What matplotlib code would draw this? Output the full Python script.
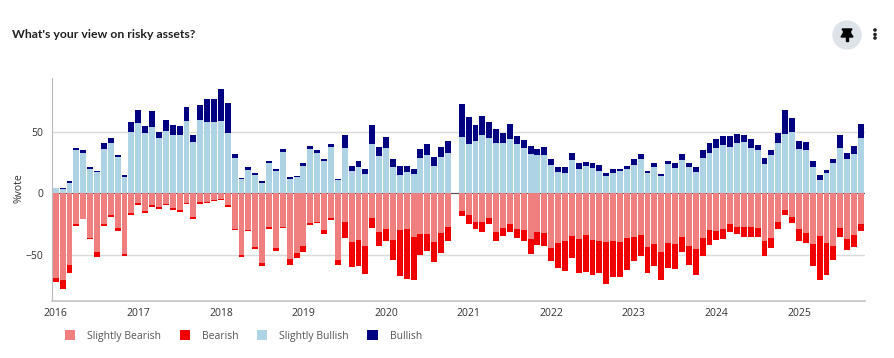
import matplotlib
matplotlib.use("Agg")
import matplotlib.pyplot as plt
from matplotlib.patches import Circle, Polygon, Rectangle
import numpy as np

years = ["2016", "2017", "2018", "2019", "2020", "2021", "2022", "2023", "2024", "2025"]
y_ticks = [-50, 0, 50]

slightly_bullish = [4.6,3.2,8.1,34.9,32.7,19.7,17,36.2,40.5,29.7,13.5,49.5,56.8,49.2,53.5,44.6,50.3,47,47,58.6,
41.4,59.5,57.6,57.6,58.6,48.6,28.9,11.4,19.2,15.1,8.4,24.6,18.4,33.8,11.9,13,22.4,35.7,33,25.9,
37.8,10.8,36.5,17.8,21.4,16,40.3,30.5,36.5,21.1,15.1,17,15.7,28.4,30.8,22.4,29.7,33,0,45.7,
40,42.4,47.6,45.1,41,41,44,39.7,37,31.6,30.8,31.4,23.2,17.3,16.8,27.3,19.5,21.9,20.5,18.4,
14,16.5,17.8,19.7,23.2,27.8,16.5,21.6,14.3,23.8,20.3,27,21.1,17.3,28.4,32.7,36.8,38.9,37.6,40.5,
41.4,37,35.1,24,30.8,40.5,48.1,49.5,35.7,35.1,21.6,10.8,16.5,24.6,36.5,27.8,31.6,44.9]
bullish = [0,0.8,1.6,1.6,2.2,1.6,1.4,4.6,4.3,1.4,1.1,8.4,11.1,5.4,13.5,4.9,9.5,8.1,7.3,11.1,
5.7,12.4,18.9,18.9,26.2,24.9,3.2,1.4,1.9,1.6,1.4,1.6,1.4,2.2,1.4,1.4,2.2,2.4,2.2,1.6,
2.2,0.8,11.1,4.6,4.6,4,14.9,7.3,9.2,6.5,7.3,4.9,3.8,7.3,9.2,6.8,7.9,9.5,0,27,
22.2,13,14.9,12.4,10.8,7.6,12.4,7,6.2,7,5.1,5.9,4.9,3.8,4.6,5.7,5.1,3.2,4.3,4.6,
2.4,3,1.6,2.2,4.6,4.3,1.9,2.7,1.4,2.7,4.6,4.9,3.2,3.8,6.8,7.8,7,7.6,8.9,7.8,
6.2,6.8,3.8,4.9,4.1,8.4,19.7,11.4,7,6.2,4.6,4.3,2.4,3,11.1,5.1,7,11.4]
slightly_bearish = [-68.4,-70.3,-58.4,-25.1,-20.8,-36.2,-47.6,-24.9,-17.8,-28.4,-49.2,-16.2,-7.8,-14,-9.2,-11.4,-8.4,-11.9,-13.5,-7.8,
-19.5,-7.3,-6.8,-5.7,-4.3,-9.7,-28.6,-50,-29.5,-43.5,-56.5,-27.3,-44.6,-27.3,-53.2,-48.1,-42.7,-24.3,-23.2,-29.7,
-19.7,-53.8,-23.5,-39.2,-37.8,-43,-20.3,-31.4,-28.9,-37.8,-30,-28.6,-35.7,-32.7,-33,-39.5,-31.9,-27,0,-14,
-17.6,-23.5,-23.2,-20.3,-31,-28.4,-24.9,-29.2,-30,-37,-31,-32.4,-44,-40,-38.6,-34.3,-37.3,-33.8,-37.8,-38.4,
-39.2,-38.6,-39.5,-36.5,-35.7,-33.5,-43.5,-41.4,-47.6,-40.3,-41,-35.7,-42.4,-45.4,-36.2,-29.5,-30.3,-28.6,-24.9,-27,
-27.3,-27,-28.4,-38.4,-36.2,-23.2,-13.2,-19.2,-29.2,-32.2,-41,-34.6,-40.5,-42.7,-28.4,-37,-33.5,-24.9]
bearish = [-3.5,-7.5,-6.2,-1.1,-0.3,-1.1,-3.8,-1.3,-1.4,-2.1,-1.9,-1.4,-1.4,-1.7,-1.6,-1.3,-1.3,-1.6,-1.4,-1.1,
-1.6,-1.1,-1,-0.8,-1.1,-1.7,-1.4,-1.4,-1.3,-1.4,-2.1,-1.3,-1.9,-1.1,-4.9,-4.6,-4.6,-1.4,-1.1,-3,
-1.7,-4.3,-12.7,-20.5,-21.4,-22.4,-8.1,-11,-9.7,-16.5,-37.3,-40.6,-34.3,-17.6,-13.8,-16.2,-16.7,-11.9,0,-4.4,
-7.3,-5.4,-8.4,-4.6,-7.9,-6.2,-6.1,-6.8,-8.4,-12.5,-10.9,-10.6,-11.1,-20.5,-24.6,-18.1,-27,-30,-28.4,-26.2,
-34,-29.5,-28.6,-25.9,-19.4,-17,-21.4,-17.2,-22.9,-20.5,-20.6,-12.1,-15.7,-20.5,-14.3,-12.4,-7.3,-8.2,-6.7,-6.2,
-7.8,-8.1,-6.7,-12.4,-8.1,-6,-4.1,-5.1,-9.2,-7.8,-17.6,-35.4,-25.7,-11.1,-6.7,-9,-10.3,-5.6]

W, H = 894, 358
plt.rcParams["font.family"] = ["Open Sans", "DejaVu Sans"]
fig = plt.figure(figsize=(W / 100, H / 100), dpi=100, facecolor="white")


def fx(px):
    return px / W


def fy(py):
    return 1 - py / H


ax = fig.add_axes([fx(52), fy(300.7), fx(865) - fx(52), fy(78) - fy(300.7)])
x = np.arange(len(slightly_bullish))
sb = np.array(slightly_bullish)
bl = np.array(bullish)
sr = np.array(slightly_bearish)
br = np.array(bearish)
w = 0.86
h1 = ax.bar(x, sr, w, color="#F08080", label="Slightly Bearish", zorder=2)
h2 = ax.bar(x, br, w, bottom=sr, color="#F00000", label="Bearish", zorder=2)
h3 = ax.bar(x, sb, w, color="#ADD3E5", label="Slightly Bullish", zorder=2)
h4 = ax.bar(x, bl, w, bottom=sb, color="#000080", label="Bullish", zorder=2)

ax.set_xlim(-0.54, 117.6)
ax.set_ylim(-87.1, 93.5)
ax.set_yticks(y_ticks)
ax.set_xticks(np.arange(len(years)) * 12)
ax.set_xticklabels(years)
ax.tick_params(axis="both", length=0, labelsize=7.5, colors="#333333")
ax.tick_params(axis="x", pad=5)
ax.tick_params(axis="y", pad=6)
ax.yaxis.grid(True, color="#DADADA", lw=1, zorder=0)
ax.axhline(0, color="#555555", lw=0.8, zorder=1)
for s in ["top", "right"]:
    ax.spines[s].set_visible(False)
ax.spines["left"].set_color("#BBBBBB")
ax.spines["bottom"].set_color("#C4C4C4")
ax.spines["bottom"].set_linewidth(1.2)
ax.set_axisbelow(True)

fig.text(fx(19), fy(188), "%vote", rotation=90, ha="center", va="center", fontsize=7.5, color="#333333")
fig.text(fx(12), fy(35), "What's your view on risky assets?", ha="left", va="center",
         fontsize=8.8, fontweight="bold", color="#222222", family=["Lato", "DejaVu Sans"])

fig.legend(handles=[h1, h2, h3, h4], loc="center left", bbox_to_anchor=(fx(65), fy(336)),
           ncol=4, frameon=False, fontsize=7.5, handlelength=1.0, handleheight=1.0,
           handletextpad=1.15, columnspacing=1.75, labelcolor="#555555", borderpad=0, borderaxespad=0)

fig.add_artist(Circle((847, H - 35), 14, transform=None, color="#DEE3EA"))
pin_top = [(842, 29), (852, 29), (850.5, 31), (850.5, 33), (853, 37), (841, 37), (843.5, 33), (843.5, 31)]
fig.add_artist(Polygon([(a, H - b) for a, b in pin_top], closed=True, transform=None, color="black"))
fig.add_artist(Rectangle((846.3, H - 41), 1.5, 4, transform=None, color="black"))
for py in (30, 34.5, 38):
    fig.add_artist(Circle((875, H - py), 1.1, transform=None, color="#222222"))

fig.savefig("out.png", dpi=100)
